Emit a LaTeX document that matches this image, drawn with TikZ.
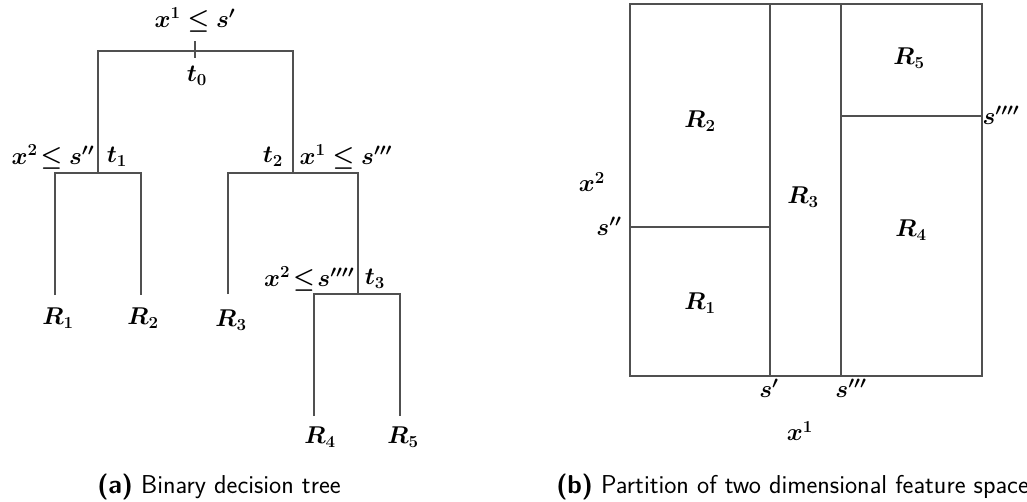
\documentclass[tikz,border=0pt]{standalone}
\definecolor{LineGray}{RGB}{80,80,80}
\usepackage{amsmath, amssymb, bm}
\usepackage{tikz}
\usetikzlibrary{positioning, calc}

\begin{document}
\begin{tikzpicture}[x=0.025cm, y=-0.025cm,
	lab/.style={font=\LARGE, inner sep=1pt},
	br/.style={draw=LineGray, line width=0.9pt},
	captext/.style={font=\sffamily\fontsize{18.4}{21}\selectfont, inner sep=0pt}]
	\useasboundingbox (0,0) rectangle (1027,501);
	% tree
	\coordinate (r0a) at (195,41); \coordinate (r0b) at (195,58);
	\coordinate (t0) at (195,51);
	\coordinate (t1) at (98,173);  \coordinate (t2) at (293,173);
	\coordinate (t3) at (358,294);
	\coordinate (l1) at (55,295);  \coordinate (l2) at (141,295);
	\coordinate (l3) at (228,294); \coordinate (l4) at (314,416);
	\coordinate (l5) at (400,416);
	\draw[br] (r0a)--(r0b);
	\draw[br] (t1) |- (t0) -| (t2);
	\draw[br] (l1) |- (t1) -| (l2);
	\draw[br] (l3) |- (t2) -| (t3);
	\draw[br] (l4) |- (t3) -| (l5);
	\node[lab] (q0) at (195,20) {$\bm{x^1 \leq s'}$};
	\node[lab] (n0) at (197,76) {$\bm{t_0}$};
	\node[lab, anchor=east] (q1) at (96,157) {$\bm{x^2\!\leq s''}$};
	\node[lab] (n1) at (117,157) {$\bm{t_1}$};
	\node[lab] (n2) at (273,157) {$\bm{t_2}$};
	\node[lab, anchor=west] (q2) at (298,157) {$\bm{x^1 \leq s'''}$};
	\node[lab, anchor=east] (q3) at (356,279) {$\bm{x^2 \!\leq\! s''''}$};
	\node[lab] (n3) at (375,279) {$\bm{t_3}$};
	\node[lab] (R1) at (58,318) {$\bm{R_1}$};
	\node[lab] (R2) at (143,318) {$\bm{R_2}$};
	\node[lab] (R3) at (231,320) {$\bm{R_3}$};
	\node[lab] (R4) at (320,437) {$\bm{R_4}$};
	\node[lab] (R5) at (403,437) {$\bm{R_5}$};
	% partition
	\draw[br] (630,4) rectangle (982,376);
	\draw[br] (770,4)--(770,376); \draw[br] (841,4)--(841,376);
	\draw[br] (630,227)--(770,227); \draw[br] (841,116)--(982,116);
	\node[lab] (P2) at (700,121) {$\bm{R_2}$};
	\node[lab] (P1) at (700,303) {$\bm{R_1}$};
	\node[lab] (P3) at (803,197) {$\bm{R_3}$};
	\node[lab] (P5) at (909,58) {$\bm{R_5}$};
	\node[lab] (P4) at (911,230) {$\bm{R_4}$};
	\node[lab] (ax2) at (592,182) {$\bm{x^2}$};
	\node[lab] (sa) at (609,226) {$\bm{s''}$};
	\node[lab] (sb) at (1001,115) {$\bm{s''''}$};
	\node[lab] (sc) at (769,388) {$\bm{s'}$};
	\node[lab] (sd) at (851,388) {$\bm{s'''}$};
	\node[lab] (ax1) at (800,431) {$\bm{x^1}$};
	% captions
	\node[captext] (capa) at (219,487) {\textbf{(a)} Binary decision tree};
	\node[captext, anchor=west] (capb) at (556,487) {\textbf{(b)} Partition of two dimensional feature space};
\end{tikzpicture}
\end{document}
